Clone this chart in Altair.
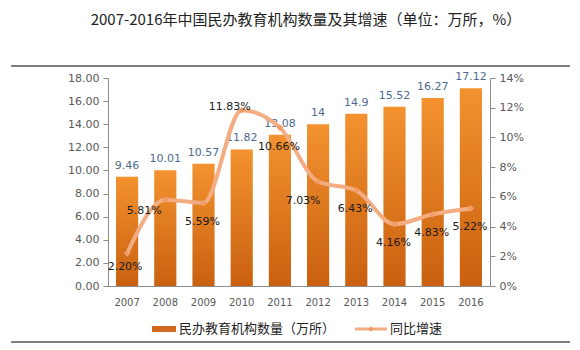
import altair as alt
import pandas as pd

# ---- data ----
years = ["2007", "2008", "2009", "2010", "2011", "2012", "2013", "2014", "2015", "2016"]
counts = [9.46, 10.01, 10.57, 11.82, 13.08, 14, 14.9, 15.52, 16.27, 17.12]
growth = [2.20, 5.81, 5.59, 11.83, 10.66, 7.03, 6.43, 4.16, 4.83, 5.22]

title_text = "2007-2016年中国民办教育机构数量及其增速（单位：万所，%）"
bar_name = "民办教育机构数量（万所）"
line_name = "同比增速"

df = pd.DataFrame({"year": years, "count": counts, "growth": growth})
one = pd.DataFrame({"k": [0]})

# ---- styling ----
FONT = "DejaVu Sans"
CJK = "Noto Sans CJK SC"
LINE_COLOR = "#F4AD82"
AXIS_COLOR = "#8C8C8C"
LABEL_COLOR = "#595959"

bar_fill = alt.Gradient(
    gradient="linear", x1=0, x2=0, y1=0, y2=1,
    stops=[alt.GradientStop(color="#F3922F", offset=0),
           alt.GradientStop(color="#C9600F", offset=1)],
)

x_enc = alt.X("year:N", sort=years,
              scale=alt.Scale(paddingInner=0.42, paddingOuter=0.21),
              axis=alt.Axis(title=None, labelAngle=0, ticks=False,
                            domainColor=AXIS_COLOR, labelColor=LABEL_COLOR,
                            labelFont=FONT, labelFontSize=10, labelPadding=11))

y_left = alt.Y("count:Q", scale=alt.Scale(domain=[0, 18], nice=False),
               axis=alt.Axis(title=None, values=list(range(0, 19, 2)), format=".2f",
                             grid=False, domainColor=AXIS_COLOR, tickColor=AXIS_COLOR,
                             tickSize=5, labelColor=LABEL_COLOR, labelFont=FONT,
                             labelFontSize=11, labelPadding=4))

y_right = alt.Y("growth:Q", scale=alt.Scale(domain=[0, 14], nice=False),
                axis=alt.Axis(title=None, orient="right", values=list(range(0, 15, 2)),
                              labelExpr="datum.value + '%'", grid=False,
                              domainColor=AXIS_COLOR, tickColor=AXIS_COLOR, tickSize=5,
                              labelColor=LABEL_COLOR, labelFont=FONT, labelFontSize=11,
                              labelPadding=4))

base = alt.Chart(df)

bars = base.mark_bar(color=bar_fill).encode(x=x_enc, y=y_left)
bar_labels = base.mark_text(font=FONT, fontSize=11, color="#4F6A8C",
                            baseline="alphabetic", dy=-8).encode(
    x=x_enc, y=y_left, text=alt.Text("count:Q"))

line = base.mark_line(color=LINE_COLOR, strokeWidth=4, interpolate="monotone").encode(
    x=x_enc, y=y_right)
points = base.mark_point(shape="diamond", filled=True, size=45, color="#F19C6B",
                         opacity=1).encode(x=x_enc, y=y_right)

# label offsets (style only)
pct_offsets = {"2007": (-2, 14), "2008": (-21, 11), "2010": (-12, -3), "2012": (-15, 19)}
default_offset = (-1, 19)

pct_layers = []
special = list(pct_offsets.keys())
for yr, (ddx, ddy) in pct_offsets.items():
    pct_layers.append(
        base.transform_filter(alt.datum.year == yr)
        .transform_calculate(lbl="format(datum.growth, '.2f') + '%'")
        .mark_text(font=FONT, fontSize=11, color="#1A1A1A", baseline="middle", dx=ddx, dy=ddy)
        .encode(x=x_enc, y=y_right, text="lbl:N")
    )
pct_layers.append(
    base.transform_filter(~alt.FieldOneOfPredicate(field="year", oneOf=special))
    .transform_calculate(lbl="format(datum.growth, '.2f') + '%'")
    .mark_text(font=FONT, fontSize=11, color="#1A1A1A", baseline="middle",
               dx=default_offset[0], dy=default_offset[1])
    .encode(x=x_enc, y=y_right, text="lbl:N")
)

# decorations: title, rules, legend
deco = alt.Chart(one)
title = deco.mark_text(font=CJK, fontSize=15, color="#222222", align="center",
                       baseline="middle").encode(
    x=alt.value(198), y=alt.value(-58), text=alt.value(title_text))
top_rule = deco.mark_rule(color="#000000", strokeWidth=1).encode(
    x=alt.value(-97), x2=alt.value(462), y=alt.value(-12))
bottom_rule = deco.mark_rule(color="#000000", strokeWidth=1).encode(
    x=alt.value(-97), x2=alt.value(462), y=alt.value(264))
leg_rect = deco.mark_rect(color="#D2691E").encode(
    x=alt.value(44), x2=alt.value(68), y=alt.value(248), y2=alt.value(254))
leg_text1 = deco.mark_text(font=CJK, fontSize=13, color="#222222", align="left",
                           baseline="middle").encode(
    x=alt.value(71), y=alt.value(251), text=alt.value(bar_name))
leg_line = deco.mark_rule(color=LINE_COLOR, strokeWidth=3).encode(
    x=alt.value(247), x2=alt.value(279), y=alt.value(251))
leg_pt = deco.mark_point(shape="diamond", filled=True, size=30, color="#F19C6B",
                         opacity=1).encode(x=alt.value(263), y=alt.value(251))
leg_text2 = deco.mark_text(font=CJK, fontSize=13, color="#222222", align="left",
                           baseline="middle").encode(
    x=alt.value(282), y=alt.value(251), text=alt.value(line_name))

left = alt.layer(bars, bar_labels)
right = alt.layer(line, points, *pct_layers)
decor = alt.layer(title, top_rule, bottom_rule, leg_rect, leg_text1, leg_line, leg_pt, leg_text2)

chart = alt.layer(left, right, decor).resolve_scale(y="independent").properties(
    width=382, height=208,
    autosize=alt.AutoSizeParams(type="none"),
    padding={"left": 108, "top": 78, "right": 90, "bottom": 64},
    background="white",
).configure_view(stroke=None)

chart.save("out.html", embed_options={"renderer": "svg", "actions": False})
